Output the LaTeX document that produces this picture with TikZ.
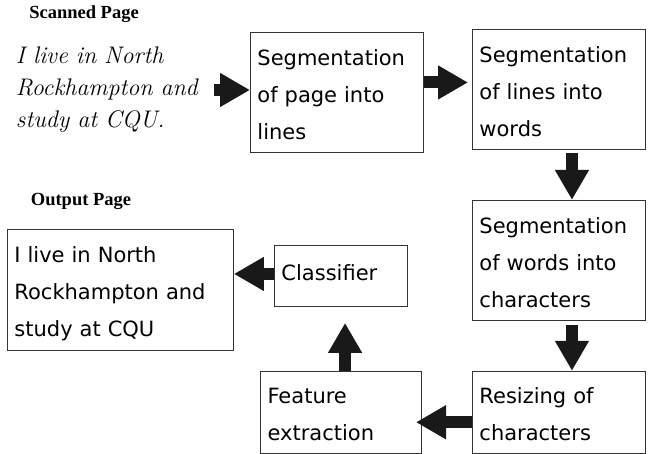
\documentclass[tikz,border=0pt]{standalone}
\usepackage{xcolor}
\usepackage{fontspec}
\usepackage{tikz}
\usetikzlibrary{arrows.meta,positioning}
\newfontfamily\boxfont{DejaVu Sans}
\newfontfamily\capfont{Liberation Serif}

\begin{document}
\begin{tikzpicture}[
    x=1pt, y=-1pt,
    stage/.style={rectangle, draw=black!80, line width=0.9pt, inner xsep=7pt, inner ysep=0pt, align=left,
        font=\boxfont\fontsize{21}{37}\selectfont,
        execute at begin node={\rule{0pt}{30pt}}, execute at end node={\rule[-10pt]{0pt}{10pt}}},
    caption/.style={font=\capfont\bfseries\fontsize{18.5}{20}\selectfont, inner sep=0pt},
    hand/.style={font=\itshape\fontsize{24}{32}\selectfont, align=left, inner sep=2pt, text width=196pt},
    blk/.style={line width=12pt, draw=black!90, -{Triangle[length=30pt, width=32pt]}}
]
\useasboundingbox[fill=white] (0,0) rectangle (648,453);

% Scanned input
\node[hand] (scan) at (114,90) {I live in North\\Rockhampton and\\study at CQU.};
\node[caption] (scancap) at (84,14) {Scanned Page};

% Segmentation stages
\node[stage, anchor=north west, text width=159pt, minimum height=120pt] (segpage) at (250,32)
    {Segmentation\\of page into\\lines};
\node[stage, anchor=north west, text width=159pt, minimum height=120pt] (seglines) at (472,29)
    {Segmentation\\of lines into\\words};
\node[stage, text width=159pt, minimum height=120pt, below=50pt of seglines] (segwords)
    {Segmentation\\of words into\\characters};
\node[stage, text width=159pt, minimum height=82pt, below=50pt of segwords] (resize)
    {Resizing of\\characters};

% Recognition
\node[stage, text width=147pt, minimum height=82pt, left=50pt of resize] (feature)
    {Feature\\extraction};
\node[stage, anchor=north west, text width=119pt, minimum height=61pt, text depth=20pt] (classify) at (274,245)
    {Classifier};

% Output
\node[caption] (outcap) at (81,201) {Output Page};
\node[stage, anchor=north west, text width=212pt, minimum height=121pt] (output) at (7,229)
    {I live in North\\Rockhampton and\\study at CQU};

% Arrows
\draw[blk] (scan) -- (scan -| segpage.west);
\draw[blk, shorten >=4pt] ([yshift=10pt]segpage.east) -- ([yshift=10pt]segpage.east -| seglines.west);
\draw[blk, shorten <=3pt] ([xshift=13pt]seglines.south) -- ([xshift=13pt]seglines.south |- segwords.north);
\draw[blk, shorten <=4pt] ([xshift=13pt]segwords.south) -- ([xshift=13pt]segwords.south |- resize.north);
\draw[blk, shorten >=-6pt] ([yshift=-10pt]resize.west) -- ([yshift=-10pt]resize.west -| feature.east);
\draw[blk, shorten >=16pt] ([xshift=4pt]feature.north) -- ([xshift=4pt]feature.north |- classify.south);
\draw[blk] ([yshift=2pt]classify.west) -- ([yshift=2pt]classify.west -| output.east);

\end{tikzpicture}
\end{document}
